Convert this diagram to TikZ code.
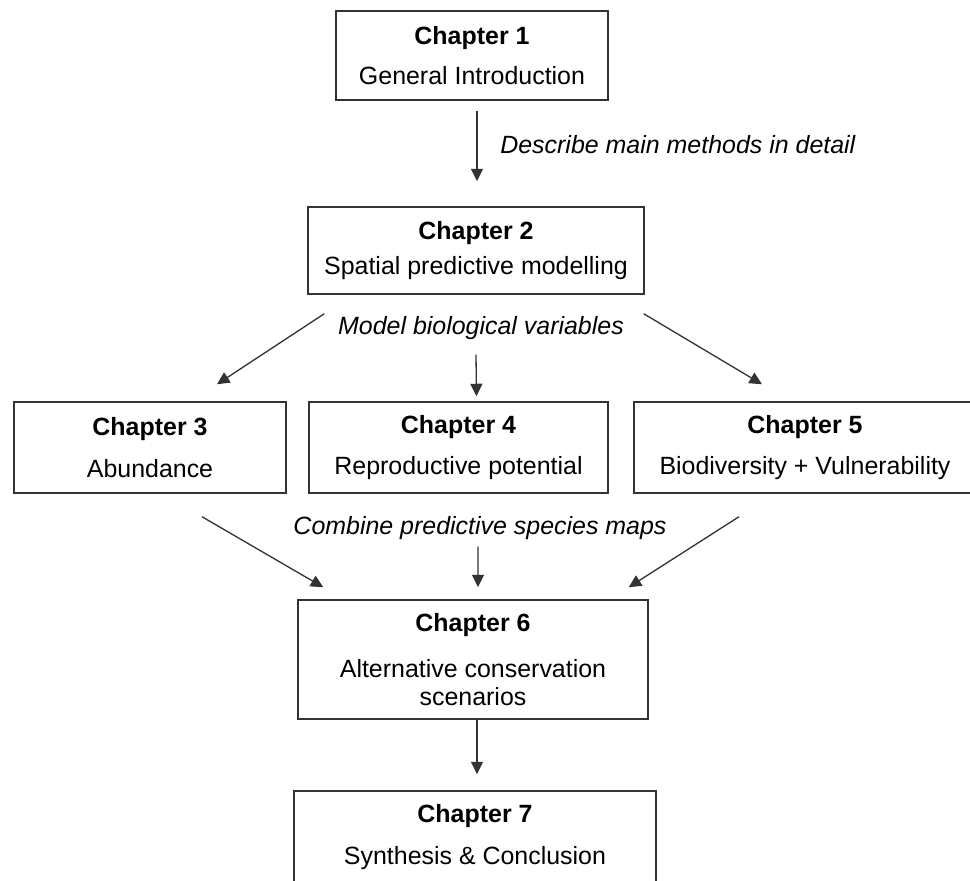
\documentclass[tikz,border=0pt]{standalone}
\usepackage{fontspec}
\setmainfont{Liberation Sans}
\usepackage{xcolor}
\usetikzlibrary{arrows.meta, calc}
\definecolor{edgegray}{HTML}{333333}

\begin{document}
\begin{tikzpicture}[x=0.02cm, y=-0.02cm,
  chap/.style={draw=edgegray, line width=0.85pt, inner sep=0pt, align=center, font=\fontsize{14.2}{16}\selectfont},
  note/.style={inner sep=0pt, font=\fontsize{14.2}{16}\selectfont\itshape},
  arrow/.style={-{Triangle[length=0.25cm, width=0.24cm]}, line width=0.75pt, edgegray}
]
  \useasboundingbox (0,0) rectangle (970,881);
  \clip (0,0) rectangle (970,881);

  \node[chap, minimum width=5.44cm, minimum height=1.78cm] (c1) at (472,55.5) {\textbf{Chapter 1}\\[7.2pt]General Introduction};
  \node[chap, minimum width=6.72cm, minimum height=1.74cm] (c2) at (476,250.5) {\textbf{Chapter 2}\\[3.8pt]Spatial predictive modelling};
  \node[chap, minimum width=5.44cm, minimum height=1.82cm] (c3) at (150,447.5) {\textbf{Chapter 3}\\[7.8pt]Abundance};
  \node[chap, minimum width=5.98cm, minimum height=1.82cm] (c4) at (458.5,447.5) {\textbf{Chapter 4}\\[7.8pt]Reproductive potential};
  \node[chap, minimum width=6.84cm, minimum height=1.82cm] (c5) at (805,447.5) {\textbf{Chapter 5}\\[7.8pt]Biodiversity + Vulnerability};
  \node[chap, minimum width=7.00cm, minimum height=2.38cm] (c6) at (473,659.5) {\textbf{Chapter 6}\\[10.6pt]Alternative conservation\\[-0.1pt]scenarios};
  \node[chap, minimum width=7.24cm, minimum height=1.84cm] (c7) at (475,837) {\textbf{Chapter 7}\\[7.8pt]Synthesis \& Conclusion};

  \node[note, anchor=west] (l1) at (500,145) {Describe main methods in detail};
  \node[note] (l2) at (481,328) {Model biological variables};
  \node[note] (l3) at (480,528) {Combine predictive species maps};

  \draw[arrow] ($(c1.south)+(5,10)$) -- ($(c2.north)+(1,-25)$);
  \draw[arrow] ($(c2.south west)+(17,19)$) -- ($(c3.north)+(67,-17)$);
  \draw[arrow] ($(c2.south)+(0,60)$) -- ($(c4.north)+(18,-5)$);
  \draw[arrow] ($(c2.south east)+(-1,19)$) -- ($(c5.north)+(-43,-17)$);
  \draw[arrow] ($(c3.south)+(52,23)$) -- ($(c6.north west)+(26,-12)$);
  \draw[arrow] ($(c4.south)+(19.5,53)$) -- ($(c6.north)+(5,-12)$);
  \draw[arrow] ($(c5.south)+(-66,23)$) -- ($(c6.north east)+(-20,-12)$);
  \draw[arrow] ($(c6.south)+(4,0)$) -- ($(c7.north)+(2,-16)$);
\end{tikzpicture}
\end{document}
